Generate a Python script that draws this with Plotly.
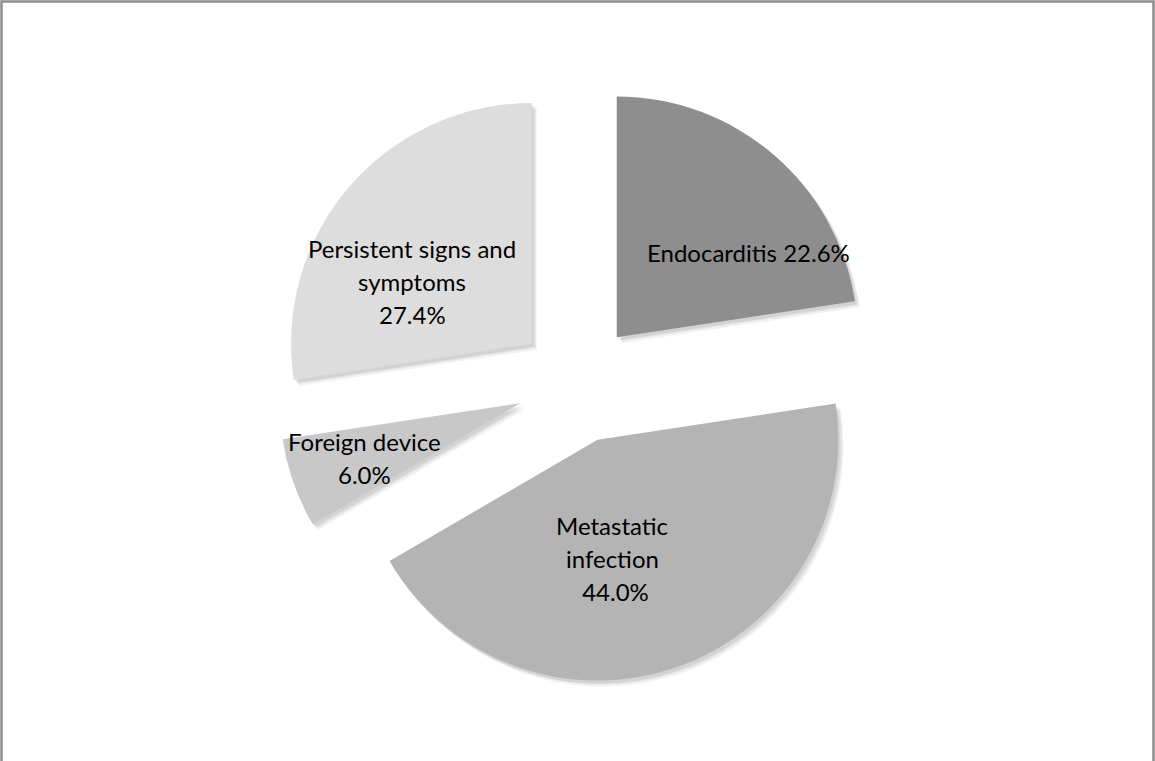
import plotly.graph_objects as go

# Bacteremia complication categories and their shares (%)
categories = ["Endocarditis", "Metastatic infection", "Foreign device",
              "Persistent signs and symptoms"]
shares = [22.6, 44.0, 6.0, 27.4]

# How each label wraps; "{v}" is replaced by the formatted share
label_lines = [
    ["Endocarditis {v}"],
    ["Metastatic", "infection", " {v}"],
    ["Foreign device", "{v}"],
    ["Persistent signs and", "symptoms", "{v}"],
]

# Styling / layout
colors = ["#8e8e8e", "#b4b4b4", "#c8c8c8", "#dddddd"]
W, H = 1155, 761
PIE_CX = 577.5                          # pixel centre of the pie domain
PIE_TOP, PIE_BOTTOM = 82, 684          # pixel extent of the pie domain
PULL = 0.25
label_centers = [(748, 252), (612, 558), (364, 458), (412, 281)]  # px
LINE_STEP = 33
FONT = dict(family="Lato, Open Sans, sans-serif", size=24, color="#000000")


def px_x(x):
    return x / W


def px_y(y):
    return 1 - y / H


def pie_domain(dx=0, dy=0):
    half = 450
    return dict(x=[px_x(PIE_CX - half + dx), px_x(PIE_CX + half + dx)],
                y=[px_y(PIE_BOTTOM + dy), px_y(PIE_TOP + dy)])


fig = go.Figure()

# soft drop shadow: a few faint offset copies of the pie underneath
for dx, dy, a in [(5, 6, 0.05), (4, 4, 0.06), (2, 3, 0.07)]:
    fig.add_trace(go.Pie(
        values=shares, labels=categories, sort=False, direction="clockwise",
        rotation=0, pull=[PULL] * len(shares), domain=pie_domain(dx, dy),
        marker=dict(colors=[f"rgba(0,0,0,{a})"] * len(shares),
                    line=dict(width=0)),
        textinfo="none", hoverinfo="skip", showlegend=False,
    ))

fig.add_trace(go.Pie(
    values=shares, labels=categories, sort=False, direction="clockwise",
    rotation=0, pull=[PULL] * len(shares), domain=pie_domain(),
    marker=dict(colors=colors, line=dict(width=0)),
    textinfo="none", showlegend=False,
))

annotations = []
for lines, v, (cx, cy) in zip(label_lines, shares, label_centers):
    n = len(lines)
    for i, ln in enumerate(lines):
        y = cy + (i - (n - 1) / 2) * LINE_STEP
        annotations.append(dict(
            x=px_x(cx), y=px_y(y), xref="paper", yref="paper",
            text=ln.replace("{v}", f"{v:.1f}%"), showarrow=False,
            xanchor="center", yanchor="middle", font=FONT,
        ))

# frame around the chart area (left, top and right edges)
frame = dict(
    type="path", xref="paper", yref="paper",
    path=(f"M {px_x(1.5)} {px_y(H + 5)} L {px_x(1.5)} {px_y(1.5)} "
          f"L {px_x(W - 1.5)} {px_y(1.5)} L {px_x(W - 1.5)} {px_y(H + 5)}"),
    line=dict(color="#8c8c8c", width=2.5),
)

fig.update_layout(
    width=W, height=H, margin=dict(l=0, r=0, t=0, b=0),
    paper_bgcolor="white", plot_bgcolor="white",
    annotations=annotations, shapes=[frame], showlegend=False,
)

fig.write_html("out.html")
